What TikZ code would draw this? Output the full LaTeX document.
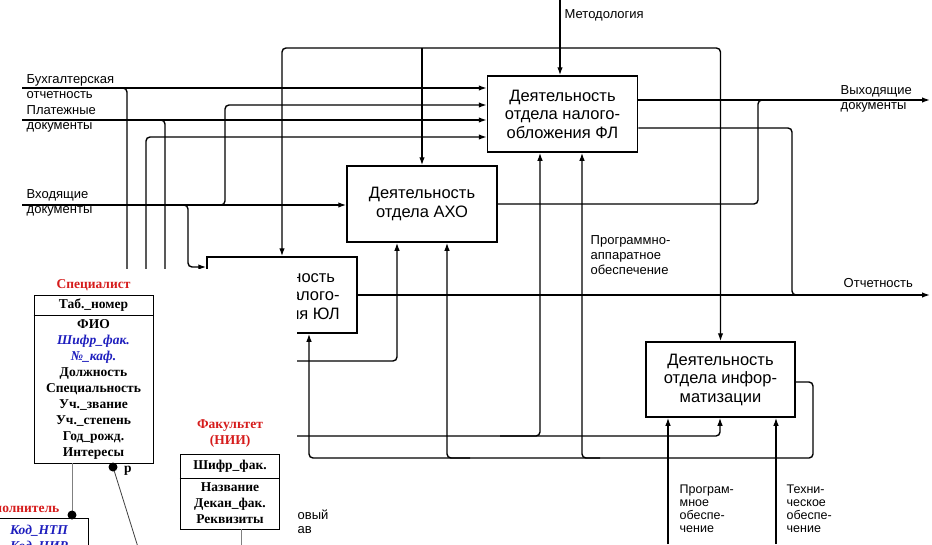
\documentclass[tikz,border=0pt]{standalone}
\usepackage{fontspec}
\setmainfont{Liberation Sans}
\newfontfamily\erfont{Liberation Serif}
\usetikzlibrary{arrows.meta}
\definecolor{erred}{RGB}{214,28,28}
\definecolor{erblue}{RGB}{30,30,190}
\tikzset{
  fbox/.style={draw,line width=1.5pt,minimum width=150pt,minimum height=76pt,align=center,inner sep=0pt,font=\fontsize{16.5}{18.5}\selectfont},
  lbl/.style={align=left,inner sep=0pt,font=\fontsize{13}{15}\selectfont},
  lbs/.style={align=left,inner sep=0pt,font=\fontsize{12.5}{13}\selectfont},
  arr/.style={-{Latex[length=8pt,width=5.5pt]}},
  ln/.style={rounded corners=4pt},
  erbox/.style={draw,line width=0.9pt,inner sep=0pt},
  erat/.style={align=center,inner sep=0pt,font=\erfont\bfseries\fontsize{13.5}{16}\selectfont},
  erkey/.style={erat,text=erblue,font=\erfont\bfseries\itshape\fontsize{13.5}{16}\selectfont},
  ertitle/.style={erat,text=erred},
  erln/.style={line width=1pt,gray}
}
\begin{document}
\begin{tikzpicture}[x=1pt,y=-1pt,line width=1.4pt]
\useasboundingbox (0,0) rectangle (932,544);
\clip (0,0) rectangle (932,544);
\node[fbox] (fl) at (562.5,114) {Деятельность\\отдела налого-\\обложения ФЛ};
\node[fbox] (axo) at (422,204) {Деятельность\\отдела АХО};
\node[fbox] (ul) at (282,295) {Деятельность\\отдела налого-\\обложения ЮЛ};
\node[fbox,minimum width=149pt,minimum height=75pt] (inf) at (720.5,379.5) {Деятельность\\отдела инфор-\\матизации};
\coordinate (metod) at (560,0);
\coordinate (mc) at (560,48);
\coordinate (buh) at (22,88);
\coordinate (plat) at (22,120);
\coordinate (vhod) at (22,205);
\coordinate (vyx) at (930,100);
\coordinate (otch) at (930,295);
\coordinate (prog) at (668,544);
\coordinate (tech) at (776,544);
% управление
\draw[arr] (metod) -- (metod |- fl.north);
\draw[ln,arr] (mc) -| (ul.north);
\draw[ln,arr] (mc) -| (inf.north);
\draw[arr] (axo.north |- mc) -- (axo.north);
% входы
\draw[arr] (buh) -- (fl.west |- buh);
\draw[ln] (buh) -| (127,300);
\draw[arr] (plat) -- (fl.west |- plat);
\draw[ln] (plat) -| (165,300);
\draw[ln,arr] (146,300) |- (fl.west |- 0,137);
\draw[arr] (vhod) -- (axo.west |- vhod);
\draw[ln,arr] (vhod) -| (225,105) -- (fl.west |- 0,105);
\draw[ln,arr] (vhod) -| (188,267) -- (ul.west |- 0,267);
% выходы
\draw[arr] (fl.east |- vyx) -- (vyx);
\draw[ln] (axo.east) -| (758,100) -- (780,100);
\draw[ln] (fl.east |- 0,128) -| (792,295) -- (810,295);
\draw[arr] (ul.east) -- (otch);
\draw[ln,arr] (inf.east |- 0,382) -| (813,458) -| (ul.south -| 309,0);
\draw[ln,arr] (470,458) -| (axo.south -| 447,0);
\draw[ln,arr] (600,458) -| (fl.south -| 582,0);
\draw[ln,arr] (290,436) -| (inf.south -| 720,0);
\draw[ln,arr] (500,436) -| (fl.south -| 540,0);
\draw[ln,arr] (290,361) -| (axo.south -| 397,0);
\draw[arr] (prog) -- (inf.south -| prog);
\draw[arr] (tech) -- (inf.south -| tech);
\node[lbl,anchor=west] at (564,15) {Методология};
\node[lbl,anchor=west] at (26,87) {Бухгалтерская\\отчетность};
\node[lbl,anchor=west] at (26,119) {Платежные\\документы};
\node[lbl,anchor=west] at (26,203) {Входящие\\документы};
\node[lbl,anchor=west] at (840,99) {Выходящие\\документы};
\node[lbl,anchor=west] at (843,283) {Отчетность};
\node[lbl,anchor=west] at (590,255) {Программно-\\аппаратное\\обеспечение};
\node[lbs,anchor=west] at (679,509) {Програм-\\мное\\обеспе-\\чение};
\node[lbs,anchor=west] at (786,509) {Техни-\\ческое\\обеспе-\\чение};
% вставка ER
\fill[white] (0,269) rectangle (297,544);
\node[lbl,anchor=west] at (297,515) {овый};
\node[lbl,anchor=west] at (297,530) {ав};
\node[ertitle] (spectit) at (93.5,285) {Специалист};
\node[erbox,minimum width=119pt,minimum height=168pt] (spec) at (93.5,379) {};
\draw[line width=0.9pt] (spec.west |- 0,315) -- (spec.east |- 0,315);
\node[erat] at (93.5,305) {Таб.\_номер};
\node[erat] at (93.5,389) {ФИО\\{\color{erblue}\itshape Шифр\_фак.}\\{\color{erblue}\itshape №\_каф.}\\Должность\\Специальность\\Уч.\_звание\\Уч.\_степень\\Год\_рожд.\\Интересы};
\coordinate (d1) at (72,515);
\draw[erln] (spec.south -| d1) -- (d1);
\fill (d1) circle (4.5);
\node[ertitle,anchor=east] at (60,508) {Исполнитель};
\node[erbox,minimum width=104pt,minimum height=60pt,anchor=north east] (ispol) at (89,518) {};
\node[erkey] at (39,531) {Код\_НТП};
\node[erkey] at (39,547) {Код\_НИР};
\coordinate (d2) at (113,467);
\coordinate (d2e) at (139.5,552);
\draw[line width=0.8pt,darkgray] (d2) -- (d2e);
\fill (d2) circle (4.5);
\node[erat] at (128,471) {p};
\node[ertitle] (faktit) at (230,434) {Факультет\\(НИИ)};
\node[erbox,minimum width=99pt,minimum height=75pt] (fak) at (229.5,491.5) {};
\draw[line width=0.9pt] (fak.west |- 0,478) -- (fak.east |- 0,478);
\node[erat] at (230,466) {Шифр\_фак.};
\node[erat] at (230,503) {Название\\Декан\_фак.\\Реквизиты};
\draw[erln] (fak.south -| 241,0) -- (241,548);
\end{tikzpicture}
\end{document}
